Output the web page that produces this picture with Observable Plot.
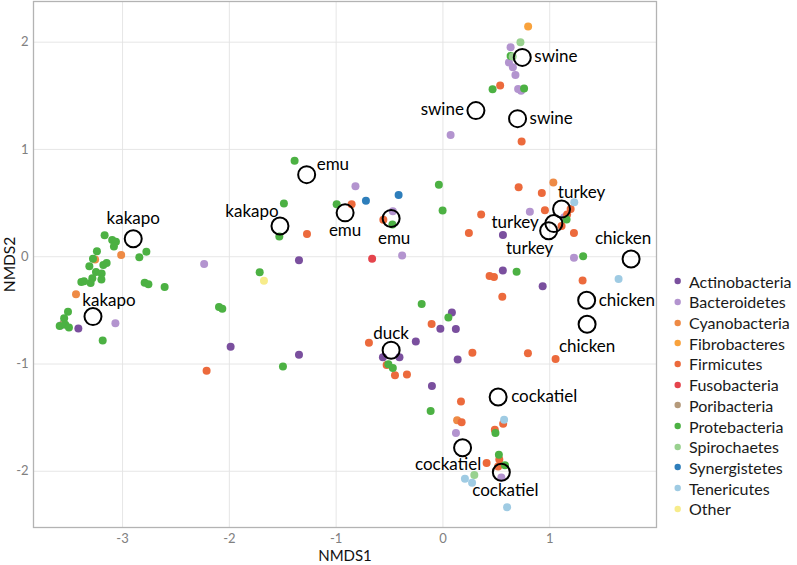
<!DOCTYPE html>
<html><head><meta charset="utf-8">
<script src="https://cdn.jsdelivr.net/npm/d3@7"></script>
<script src="https://cdn.jsdelivr.net/npm/@observablehq/plot@0.6"></script>
<style>
body{margin:0;background:#fff;font-family:Lato,sans-serif;}
#wrap{position:relative;width:797px;height:565px;overflow:hidden;}
#legend{position:absolute;left:672px;top:270.85px;font-size:16px;color:#1a1a1a;font-family:Lato,sans-serif;}
.row{height:20.7px;display:flex;align-items:center;white-space:nowrap;}
.row svg{flex:none;}
.row span{margin-left:5px;}
</style>
</head><body>
<div id="wrap"><div id="chart"></div><div id="legend"></div></div>
<script>
// ---- data ----
const phyla = ["Actinobacteria","Bacteroidetes","Cyanobacteria","Fibrobacteres","Firmicutes","Fusobacteria","Poribacteria","Protebacteria","Spirochaetes","Synergistetes","Tenericutes","Other"];
const phylumColors = ["#7a4f9e","#b394cf","#ee8a45","#f9a23c","#ec6a3c","#e5444c","#b59a7b","#4cb143","#99d18f","#2e7ebb","#9fcbe3","#f7ec8b"];

const actinobacteria = [[-3.414,-0.670],[-1.348,-0.033],[-1.988,-0.840],[-1.348,-0.914],[0.562,0.202],[0.561,-0.128],[0.934,-0.275],[0.084,-0.521],[-0.024,-0.671],[0.121,-0.673],[-0.254,-0.791],[-0.562,-0.936],[-0.407,-0.936],[0.138,-0.958],[-0.103,-1.205]];
const bacteroidetes = [[-2.236,-0.068],[-3.067,-0.621],[-3.580,-0.640],[-0.819,0.658],[-0.469,0.425],[-0.382,0.011],[0.072,1.135],[0.634,1.953],[0.618,1.811],[0.655,1.765],[0.679,1.695],[0.704,1.563],[0.732,1.548],[0.814,0.420],[1.227,-0.009],[0.122,-1.642],[0.547,-2.059],[1.137,0.369]];
const cyanobacteria = [[-3.013,0.016],[-3.257,-0.026],[-3.436,-0.350],[1.034,0.693],[0.133,-1.524]];
const fibrobacteres = [[0.798,2.146]];
const firmicutes = [[-2.213,-1.063],[-1.273,0.211],[-0.855,0.490],[-0.558,0.344],[0.243,0.220],[0.536,1.597],[0.737,1.074],[0.709,0.648],[0.926,0.593],[0.955,0.434],[0.358,0.393],[1.196,0.444],[1.163,0.393],[1.111,0.286],[1.227,0.220],[0.437,-0.180],[0.478,-0.189],[0.556,-0.372],[1.308,-0.221],[0.796,-0.900],[1.055,-0.954],[0.276,-0.894],[-0.106,-0.628],[-0.693,-0.803],[-0.527,-1.010],[-0.449,-1.105],[-0.337,-1.098],[0.169,-1.350],[0.175,-1.544],[0.564,-1.558],[0.486,-1.612],[0.528,-1.891],[0.409,-1.922],[0.517,-1.956]];
const fusobacteria = [[-0.663,-0.019]];
const poribacteria = [[-3.551,-0.617]];
const protebacteria = [[-3.168,0.199],[-3.097,0.157],[-3.062,0.140],[-3.081,0.095],[-3.240,0.051],[-2.777,0.047],[-2.843,-0.006],[-3.277,-0.019],[-3.149,-0.059],[-3.180,-0.077],[-3.311,-0.089],[-3.249,-0.142],[-3.196,-0.156],[-3.198,-0.212],[-3.283,-0.201],[-3.361,-0.229],[-3.386,-0.235],[-3.299,-0.245],[-2.793,-0.242],[-2.758,-0.257],[-2.606,-0.282],[-3.511,-0.512],[-3.547,-0.573],[-3.589,-0.645],[-3.536,-0.635],[-3.502,-0.659],[-3.186,-0.780],[-1.716,-0.145],[-2.097,-0.468],[-2.066,-0.484],[-1.498,-1.023],[-1.389,0.895],[-1.489,0.497],[-1.532,0.188],[-0.995,0.488],[-0.473,0.300],[-0.038,0.670],[-0.003,0.430],[0.465,1.560],[0.760,1.569],[0.634,1.872],[1.158,0.348],[1.313,0.004],[0.690,-0.140],[-0.199,-0.440],[0.051,-0.567],[-0.511,-1.003],[-0.469,-1.037],[-0.115,-1.437],[0.492,-1.643],[0.524,-1.845],[0.581,-1.944]];
const spirochaetes = [[0.726,1.999],[0.653,1.867],[0.294,-2.035]];
const synergistetes = [[-0.721,0.521],[-0.415,0.576]];
const tenericutes = [[1.230,0.507],[1.645,-0.207],[0.573,-1.519],[0.206,-2.070],[0.273,-2.108],[0.601,-2.335]];
const other = [[-1.676,-0.223]];

const xTicks = [-3,-2,-1,0,1];
const yTicks = [-2,-1,0,1,2];

const hostNames = ["kakapo","kakapo","kakapo","emu","emu","emu","swine","swine","swine","turkey","turkey","turkey","chicken","chicken","chicken","duck","cockatiel","cockatiel","cockatiel"];
const hostNMDS1 = [-2.900,-1.526,-3.277,-1.276,-0.916,-0.485,0.743,0.309,0.699,1.111,1.039,0.990,1.762,1.346,1.350,-0.485,0.517,0.184,0.547];
const hostNMDS2 = [0.167,0.286,-0.558,0.765,0.409,0.357,1.858,1.362,1.287,0.444,0.309,0.242,-0.021,-0.406,-0.629,-0.871,-1.307,-1.780,-2.009];
// label placement (repelled text): [dx, dy, anchor]
const labelNudge = [[0,-20,"middle"],[-28,-14,"middle"],[16,-16,"middle"],[10,-10,"start"],[0,18,"middle"],[3,20,"middle"],[12,-1,"start"],[-12,-1,"end"],[12,0,"start"],[20,-17,"middle"],[-15,-1.5,"end"],[-19,18,"middle"],[-8,-20,"middle"],[12,0,"start"],[0,22,"middle"],[0,-17,"middle"],[13,0,"start"],[-14.5,17,"middle"],[4,18,"middle"]];

// ---- build tables ----
const groups = [actinobacteria,bacteroidetes,cyanobacteria,fibrobacteres,firmicutes,fusobacteria,poribacteria,protebacteria,spirochaetes,synergistetes,tenericutes,other];
const otus = [];
groups.forEach((g,i)=>g.forEach(([x,y])=>otus.push({NMDS1:x,NMDS2:y,phylum:phyla[i]})));
const hosts = hostNames.map((n,i)=>({name:n,NMDS1:hostNMDS1[i],NMDS2:hostNMDS2[i]}));

const font = "Lato, sans-serif";
const fmt = d => String(d);
const chart = Plot.plot({
  width: 797, height: 565,
  marginLeft: 33, marginRight: 141, marginTop: 1, marginBottom: 38,
  style: {fontFamily: font, background: "#fff"},
  x: {domain: [-3.834, 2.0]},
  y: {domain: [-2.524, 2.379]},
  color: {domain: phyla, range: phylumColors},
  marks: [
    Plot.gridX(xTicks, {stroke: "#e3e3e3", strokeOpacity: 1, strokeWidth: 0.9}),
    Plot.gridY(yTicks, {stroke: "#e3e3e3", strokeOpacity: 1, strokeWidth: 0.9}),
    Plot.axisX(xTicks, {tickSize: 0, tickPadding: 6, fontSize: 13, fill: "#808080", label: null, tickFormat: fmt}),
    Plot.axisY(yTicks, {tickSize: 0, tickPadding: 5, fontSize: 13, fill: "#808080", label: null, tickFormat: fmt}),
    Plot.text(["NMDS1"], {frameAnchor: "bottom", dy: 29, lineAnchor: "middle", textAnchor: "middle", fontSize: 15, fill: "#111"}),
    Plot.text(["NMDS2"], {frameAnchor: "left", dx: -23.5, rotate: -90, lineAnchor: "middle", textAnchor: "middle", fontSize: 15.5, fill: "#111"}),
    Plot.dot(otus, {x: "NMDS1", y: "NMDS2", fill: "phylum", r: 4}),
    Plot.dot(hosts, {x: "NMDS1", y: "NMDS2", r: 8.5, stroke: "#000", strokeWidth: 2, fill: "none"}),
    ...hosts.map((h,i)=>Plot.text([h], {x: "NMDS1", y: "NMDS2", text: "name", dx: labelNudge[i][0], dy: labelNudge[i][1], textAnchor: labelNudge[i][2], fontSize: 17, fill: "#000"})),
    Plot.frame({stroke: "#b3b3b3", strokeWidth: 1.3})
  ]
});
document.getElementById("chart").appendChild(chart);

const leg = document.getElementById("legend");
phyla.forEach((p,i)=>{
  const row = document.createElement("div");
  row.className = "row";
  row.innerHTML = `<svg width="12" height="12"><circle cx="5.7" cy="6" r="3.2" fill="${phylumColors[i]}"/></svg><span>${p}</span>`;
  leg.appendChild(row);
});
</script>
</body></html>
